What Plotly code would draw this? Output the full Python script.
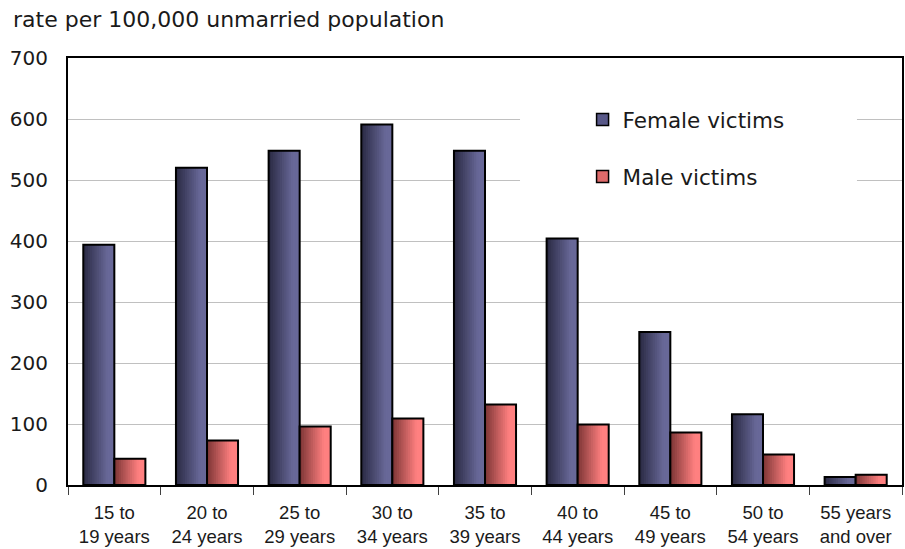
import plotly.graph_objects as go

categories = ["15 to<br>19 years", "20 to<br>24 years", "25 to<br>29 years", "30 to<br>34 years",
              "35 to<br>39 years", "40 to<br>44 years", "45 to<br>49 years", "50 to<br>54 years",
              "55 years<br>and over"]
female = [394, 520, 548, 591, 548, 404, 251, 116, 13]
male = [43, 73, 96, 109, 132, 99, 86, 50, 17]
y_ticks = [0, 100, 200, 300, 400, 500, 600, 700]

BAR_W = 0.335
N = 14


def lerp(c1, c2, t):
    return "rgb(%d,%d,%d)" % tuple(round(a + (b - a) * t) for a, b in zip(c1, c2))


fig = go.Figure()

series = [
    (female, -BAR_W, (44, 44, 70), (104, 104, 152), "Female victims"),
    (male, 0.0, (130, 56, 56), (255, 128, 128), "Male victims"),
]

for vals, off0, c_dark, c_light, name in series:
    for i in range(N):
        t = i / (N - 1)
        te = min(1.0, t / 0.8)
        fig.add_trace(go.Bar(
            x=categories, y=vals,
            offset=off0 + i * BAR_W / N, width=BAR_W - i * BAR_W / N,
            marker=dict(color=lerp(c_dark, c_light, te), line=dict(width=0)),
            showlegend=False, hoverinfo="skip"))
    fig.add_trace(go.Bar(
        x=categories, y=vals, offset=off0, width=BAR_W,
        marker=dict(color="rgba(0,0,0,0)", line=dict(color="black", width=2)),
        showlegend=False, name=name))

# legend proxies
fig.add_trace(go.Bar(x=[None], y=[None], name="Female victims", legendgroup="f",
                     marker=dict(color="rgb(88,88,136)", line=dict(color="black", width=1.5))))
fig.add_trace(go.Bar(x=[None], y=[None], name="Male victims", legendgroup="m",
                     marker=dict(color="rgb(222,106,106)", line=dict(color="black", width=1.5))))

fig.update_layout(
    width=905, height=549,
    margin=dict(l=68, r=3, t=58, b=64, autoexpand=False),
    barmode="overlay",
    plot_bgcolor="white", paper_bgcolor="white",
    font=dict(family="DejaVu Sans", size=20, color="#1a1a1a"),
    legend=dict(x=0.617, y=0.904, xanchor="left", yanchor="top",
                bgcolor="rgba(0,0,0,0)", font=dict(size=21.5, family="DejaVu Sans"),
                traceorder="grouped", tracegroupgap=26),
    shapes=[dict(type="rect", xref="paper", yref="paper", x0=0.542, x1=0.946, y0=0.64, y1=0.99,
                 fillcolor="white", line=dict(width=0), layer="above")],
    annotations=[dict(text="rate per 100,000 unmarried population", xref="paper", yref="paper",
                      x=-0.068, y=1.089, xanchor="left", yanchor="middle", showarrow=False,
                      font=dict(size=22, family="DejaVu Sans", color="#1a1a1a"))],
)

fig.update_yaxes(range=[0, 700], tickvals=y_ticks, showgrid=True, gridcolor="#c0c0c0", gridwidth=1,
                 showline=True, linecolor="black", linewidth=2, mirror=True, ticks="",
                 ticklabelstandoff=14, zeroline=False, fixedrange=True, automargin=False)
fig.update_xaxes(showline=True, linecolor="black", linewidth=2, mirror=True,
                 ticks="outside", tickson="boundaries", ticklen=8, tickcolor="#404040",
                 tickfont=dict(family="Liberation Sans, Arial", size=18.5),
                 ticklabelstandoff=10, automargin=False, fixedrange=True)

fig.write_html("out.html", config={"displayModeBar": False},
               post_script="document.body.style.margin='0';")
